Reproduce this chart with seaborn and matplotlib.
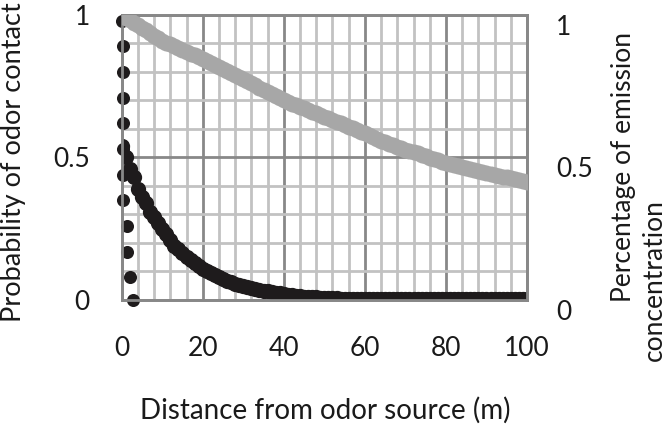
import numpy as np
import pandas as pd
import seaborn as sns
import matplotlib
matplotlib.use("Agg")
import matplotlib.pyplot as plt
from matplotlib.ticker import MultipleLocator

# ---------------- data ----------------
# steep near-source series (black dots close to x = 0)
near_x = [0.0, 0.3, 0.3, 0.3, 0.3, 0.3, 0.4, 0.4, 1.2, 1.2, 2.0, 2.8]
near_y = [0.98, 0.89, 0.80, 0.71, 0.62, 0.53, 0.44, 0.35, 0.26, 0.17, 0.08, 0.0]

# probability of odor contact (black decay curve), x = 0..100 m
contact_x = list(range(0, 101))
contact_y = [
    0.54, 0.50, 0.46, 0.43, 0.39, 0.36, 0.34, 0.31, 0.29, 0.27,
    0.25, 0.23, 0.21, 0.19, 0.18, 0.165, 0.15, 0.14, 0.13, 0.12,
    0.11, 0.10, 0.093, 0.086, 0.079, 0.073, 0.067, 0.062, 0.057, 0.052,
    0.048, 0.045, 0.041, 0.038, 0.035, 0.032, 0.030, 0.027, 0.025, 0.023,
    0.021, 0.019, 0.017, 0.015, 0.013, 0.012, 0.011, 0.010, 0.009, 0.008,
    0.007, 0.007, 0.006, 0.006, 0.005, 0.005, 0.005, 0.005, 0.005, 0.005,
    0.005, 0.005, 0.005, 0.005, 0.005, 0.005, 0.005, 0.005, 0.005, 0.005,
    0.005, 0.005, 0.005, 0.005, 0.005, 0.005, 0.005, 0.005, 0.005, 0.005,
    0.005, 0.005, 0.005, 0.005, 0.005, 0.005, 0.005, 0.005, 0.005, 0.005,
    0.005, 0.005, 0.005, 0.005, 0.005, 0.005, 0.005, 0.005, 0.005, 0.005,
    0.005,
]

# percentage of emission concentration (grey curve), x = 0..100 m
emission_x = list(range(0, 101))
emission_y = [
    1.000, 0.991, 0.982, 0.973, 0.964, 0.955, 0.946, 0.937, 0.928, 0.919,
    0.910, 0.903, 0.897, 0.890, 0.884, 0.877, 0.871, 0.864, 0.858, 0.851,
    0.845, 0.838, 0.831, 0.824, 0.817, 0.810, 0.803, 0.796, 0.789, 0.782,
    0.775, 0.768, 0.760, 0.753, 0.745, 0.738, 0.730, 0.723, 0.715, 0.708,
    0.700, 0.694, 0.689, 0.683, 0.678, 0.672, 0.666, 0.660, 0.655, 0.649,
    0.643, 0.637, 0.631, 0.626, 0.620, 0.614, 0.608, 0.602, 0.597, 0.591,
    0.585, 0.579, 0.572, 0.566, 0.559, 0.553, 0.548, 0.543, 0.538, 0.533,
    0.528, 0.523, 0.518, 0.514, 0.509, 0.504, 0.499, 0.494, 0.490, 0.485,
    0.480, 0.477, 0.473, 0.470, 0.466, 0.463, 0.460, 0.456, 0.453, 0.449,
    0.446, 0.443, 0.440, 0.436, 0.433, 0.430, 0.427, 0.424, 0.420, 0.417,
    0.414,
]

x_ticks = [0, 20, 40, 60, 80, 100]
x_tick_labels = ["0", "20", "40", "60", "80", "100"]
y_ticks = [0, 0.5, 1]
y_tick_labels = ["0", "0.5", "1"]

# ---------------- style ----------------
sns.set_theme(style="white")
plt.rcParams["font.family"] = ["Lato", "DejaVu Sans"]

BLACK = "#1e1b1c"
GREY = "#a7a7a7"
GRID_MAJOR = "#888888"
GRID_MINOR = "#c2c2c2"
FS = 19
TXT = "#1a1a1a"

fig = plt.figure(figsize=(6.66, 4.32), dpi=100)
ax = fig.add_axes([0.1827, 0.3056, 0.6086, 0.6597])

near_df = pd.DataFrame({"x": near_x, "y": near_y})
contact_df = pd.DataFrame({"x": contact_x, "y": contact_y})
emission_df = pd.DataFrame({"x": emission_x, "y": emission_y})

sns.scatterplot(data=contact_df, x="x", y="y", ax=ax, color=BLACK, s=11.0**2,
                linewidth=0, zorder=3, legend=False)
sns.scatterplot(data=near_df, x="x", y="y", ax=ax, color=BLACK, s=9.4**2,
                linewidth=0, zorder=3, legend=False, clip_on=False)

ax.set_xlim(0, 100)
ax.set_ylim(0, 1)
ax.set_xticks(x_ticks)
ax.set_xticklabels(x_tick_labels)
ax.set_yticks(y_ticks)
ax.set_yticklabels(y_tick_labels)
ax.xaxis.set_minor_locator(MultipleLocator(4))
ax.yaxis.set_minor_locator(MultipleLocator(0.1))
ax.set_axisbelow(True)
ax.grid(which="minor", color=GRID_MINOR, lw=2.0)
ax.grid(which="major", color=GRID_MAJOR, lw=2.0)
ax.tick_params(which="both", length=0)
ax.tick_params(axis="x", labelsize=FS, pad=26, colors=TXT)
ax.tick_params(axis="y", labelsize=FS, pad=23, colors=TXT)
ax.set_xlabel("")
ax.set_ylabel("")

ax2 = ax.twinx()
sns.scatterplot(data=emission_df, x="x", y="y", ax=ax2, color=GREY,
                s=11.5**2, linewidth=0, zorder=3, legend=False)
ax2.set_xlim(0, 100)
ax2.set_ylim(0, 1)
ax2.set_yticks(y_ticks)
ax2.set_yticklabels(y_tick_labels, va="top")
ax2.tick_params(which="both", length=0)
ax2.tick_params(axis="y", labelsize=FS, pad=21, colors=TXT)
ax2.set_ylabel("")
ax2.grid(False)

for a in (ax, ax2):
    for sp in a.spines.values():
        sp.set_color(GRID_MAJOR)
        sp.set_linewidth(2.0)

# axis titles
fig.text(325 / 666, 1 - 410 / 432, "Distance from odor source (m)",
         ha="center", va="center", fontsize=20, color=TXT)
fig.text(14 / 666, 1 - 162 / 432, "Probability of odor contact",
         ha="center", va="center", rotation=90, fontsize=19.5, color=TXT)
fig.text(624 / 666, 1 - 167 / 432, "Percentage of emission",
         ha="center", va="center", rotation=90, fontsize=FS, color=TXT)
fig.text(654 / 666, 1 - 280 / 432, "concentration",
         ha="center", va="center", rotation=90, fontsize=FS, color=TXT)

fig.savefig("out.png", dpi=100)
